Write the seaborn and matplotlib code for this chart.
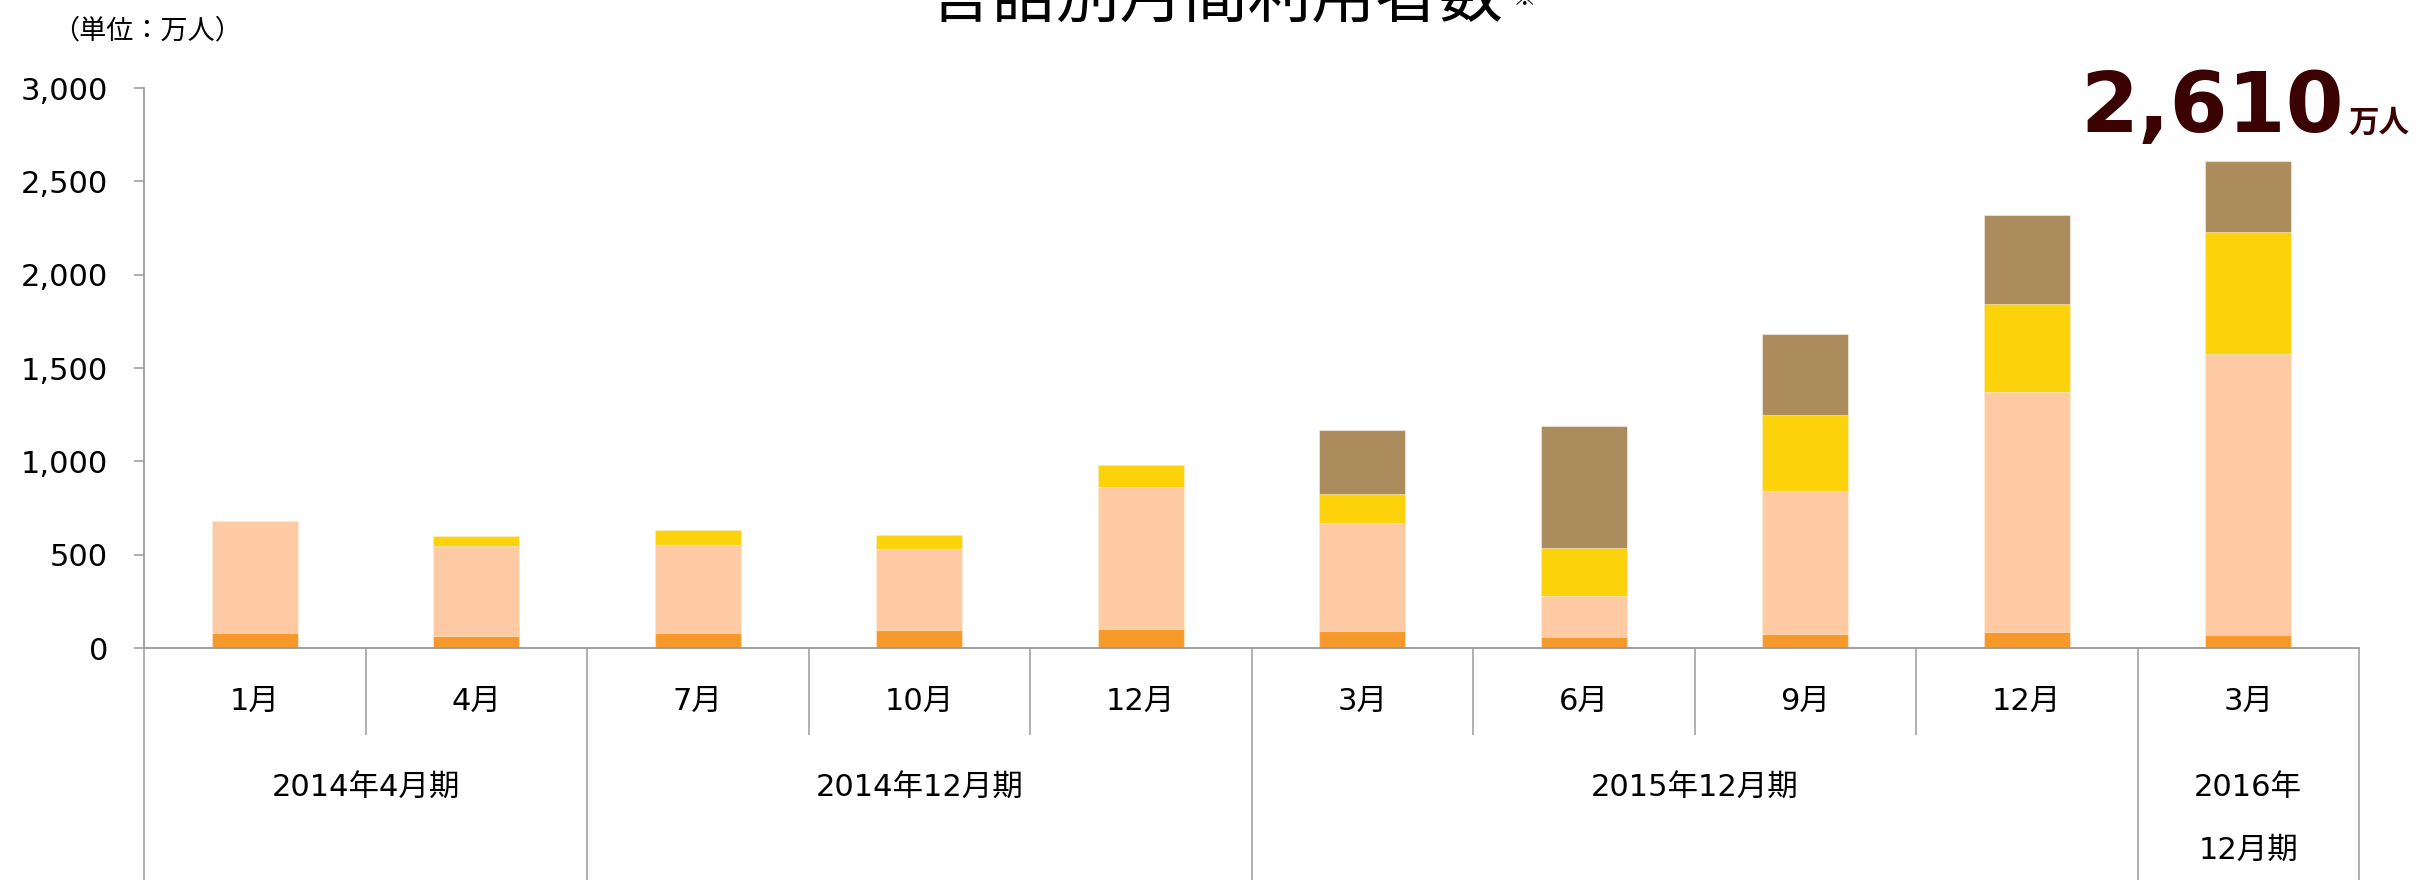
import matplotlib
matplotlib.use("Agg")
import matplotlib.pyplot as plt
import matplotlib.transforms as mtransforms
from matplotlib.ticker import FuncFormatter, MultipleLocator
import numpy as np
import pandas as pd
import seaborn as sns

# ---- data (万人) ----
months = ["1月", "4月", "7月", "10月", "12月", "3月", "6月", "9月", "12月", "3月"]
periods = ["2014年4月期", "2014年12月期", "2015年12月期", "2016年\n12月期"]
period_sizes = [2, 3, 4, 1]
seg_orange = [82, 66, 82, 98, 100, 89, 60, 73, 87, 71]
seg_peach = [600, 482, 471, 432, 764, 582, 220, 770, 1287, 1506]
seg_yellow = [0, 50, 81, 77, 118, 152, 256, 407, 469, 650]
seg_brown = [0, 0, 0, 0, 0, 347, 655, 434, 476, 383]
title = "言語別月間利用者数"
unit_label = "（単位：万人）"
highlight_unit = "万人"

colors = {"orange": "#F7992A", "peach": "#FECAA3", "yellow": "#FCD20B", "brown": "#AC8B5C"}

sns.set_theme(style="white")
plt.rcParams["font.family"] = ["DejaVu Sans", "Noto Sans CJK JP"]
CJK = ["Noto Sans CJK JP", "DejaVu Sans"]
MIX = ["DejaVu Sans", "Noto Sans CJK JP"]

# unique category keys (months repeat across periods)
period_of = []
for p, n in zip(periods, period_sizes):
    period_of += [p] * n
keys = [f"{p}|{m}|{i}" for i, (p, m) in enumerate(zip(period_of, months))]

layers = [("orange", seg_orange), ("peach", seg_peach), ("yellow", seg_yellow), ("brown", seg_brown)]
cum = np.cumsum(np.array([l[1] for l in layers]), axis=0)
df = pd.DataFrame({"key": keys})
for (name, _), c in zip(layers, cum):
    df[name] = c

W, H = 2420, 880
fig = plt.figure(figsize=(W / 100, H / 100), dpi=100)
ax = fig.add_axes([144 / W, 1 - 648 / H, (2359 - 144) / W, 560 / H])

edge = (1, 1, 1, 0.45)
for name, _ in reversed(layers):
    sns.barplot(data=df, x="key", y=name, order=keys, color=colors[name],
                saturation=1, width=0.39, errorbar=None, edgecolor=edge,
                linewidth=0.8, ax=ax)

ax.set_xlim(-0.5, len(keys) - 0.5)
ax.set_ylim(0, 3000)
ax.set_xlabel("")
ax.set_ylabel("")
ax.yaxis.set_major_locator(MultipleLocator(500))
ax.yaxis.set_major_formatter(FuncFormatter(lambda v, p: f"{v:,.0f}"))
gray = "#9a9a9a"
for s in ["top", "right"]:
    ax.spines[s].set_visible(False)
for s in ["left", "bottom"]:
    ax.spines[s].set_color(gray)
    ax.spines[s].set_linewidth(1.3)
ax.tick_params(axis="y", which="major", direction="out", length=7, width=1.1,
               color=gray, pad=19, labelsize=22, labelcolor="black", left=True)
ax.tick_params(axis="x", bottom=False, labelbottom=False)
for lab in ax.get_yticklabels():
    lab.set_fontfamily(MIX)

# ---- category axis (two-level) ----
trans = mtransforms.blended_transform_factory(ax.transData, ax.transAxes)
y_short = -(735 - 648) / 560
y_bottom = -(880 - 648) / 560
y_month = -(701 - 648) / 560
y_period = -(788 - 648) / 560
line_step = (850 - 788) / 560

boundaries = np.cumsum([0] + period_sizes)
for i in range(len(keys) + 1):
    xb = i - 0.5
    ylow = y_bottom if i in boundaries else y_short
    ax.plot([xb, xb], [0, ylow], transform=trans, color=gray, lw=1.1,
            clip_on=False, solid_capstyle="butt")

for i, m in enumerate(months):
    ax.text(i, y_month, m, transform=trans, ha="center", va="center",
            fontsize=22, family=MIX, color="black")

for k, p in enumerate(periods):
    xc = (boundaries[k] + boundaries[k + 1] - 1) / 2
    for j, line in enumerate(p.split("\n")):
        ax.text(xc, y_period - j * line_step, line, transform=trans, ha="center",
                va="center", fontsize=22, family=MIX, color="black")

# ---- texts ----
fig.text(1216 / W, 1 + 2 / H, title, ha="center", va="center", fontsize=46,
         family=CJK, color="black")
fig.text(1513 / W, 1 + 2 / H, "※", ha="left", va="center", fontsize=17,
         family=CJK, color="black")
fig.text(147 / W, 1 - 31 / H, unit_label, ha="center", va="center", fontsize=19.5,
         family=CJK, color="black")

total = int(cum[-1][-1])
fig.text(2344 / W, 1 - 132 / H, f"{total:,}", ha="right", va="baseline",
         fontsize=60, fontweight="bold", family=MIX, color="#3A0202")
fig.text(2348 / W, 1 - 132 / H, highlight_unit, ha="left", va="baseline",
         fontsize=22, fontweight="bold", family=CJK, color="#3A0202")

fig.savefig("out.png", dpi=100)
